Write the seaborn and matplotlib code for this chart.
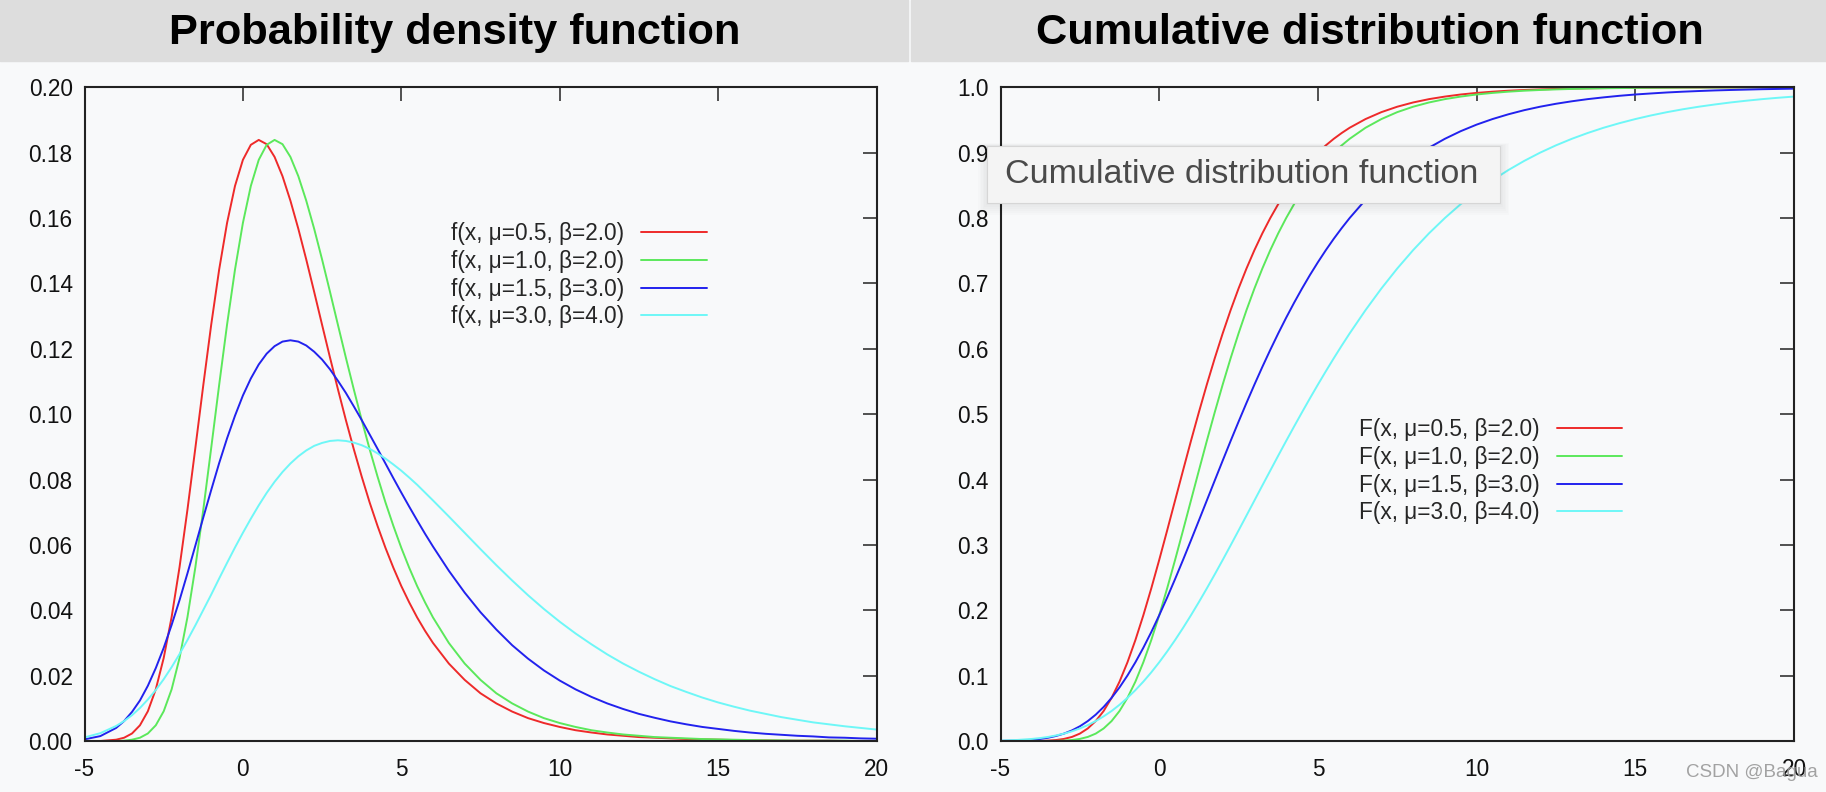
import matplotlib
matplotlib.use("Agg")
import matplotlib.pyplot as plt
from matplotlib.patches import Rectangle
import seaborn as sns

# sample positions and values
x_vals = [-5.0, -4.5, -4.0,
          -3.75, -3.5, -3.25, -3.0, -2.75, -2.5, -2.25, -2.0, -1.75, -1.5,
          -1.25, -1.0, -0.75, -0.5, -0.25, 0.0, 0.25, 0.5, 0.75, 1.0,
          1.25, 1.5, 1.75, 2.0, 2.25, 2.5, 2.75, 3.0, 3.25, 3.5,
          3.75, 4.0, 4.25, 4.5, 4.75, 5.0, 5.25, 5.5, 5.75, 6.0,
          6.5, 7.0, 7.5, 8.0, 8.5, 9.0, 9.5, 10.0, 10.5, 11.0,
          11.5, 12.0, 12.5, 13.0, 13.5, 14.0, 14.5, 15.0, 15.5, 16.0,
          16.5, 17.0, 17.5, 18.0, 18.5, 19.0, 19.5, 20.0]

pdf_mu05_b2 = [0.0000, 0.0000, 0.0004,
               0.0010, 0.0023, 0.0048, 0.0091, 0.0158, 0.0254, 0.0379, 0.0532, 0.0708, 0.0897,
               0.1089, 0.1274, 0.1442, 0.1585, 0.1698, 0.1778, 0.1824, 0.1839, 0.1826, 0.1787,
               0.1728, 0.1653, 0.1567, 0.1473, 0.1374, 0.1273, 0.1173, 0.1076, 0.0982, 0.0893,
               0.0809, 0.0730, 0.0658, 0.0591, 0.0530, 0.0474, 0.0424, 0.0378, 0.0337, 0.0300,
               0.0237, 0.0187, 0.0146, 0.0115, 0.0090, 0.0070, 0.0055, 0.0043, 0.0033, 0.0026,
               0.0020, 0.0016, 0.0012, 0.0010, 0.0008, 0.0006, 0.0005, 0.0004, 0.0003, 0.0002,
               0.0002, 0.0001, 0.0001, 0.0001, 0.0001, 0.0000, 0.0000, 0.0000]
pdf_mu10_b2 = [0.0000, 0.0000, 0.0000,
               0.0001, 0.0004, 0.0010, 0.0023, 0.0048, 0.0091, 0.0158, 0.0254, 0.0379, 0.0532,
               0.0708, 0.0897, 0.1089, 0.1274, 0.1442, 0.1585, 0.1698, 0.1778, 0.1824, 0.1839,
               0.1826, 0.1787, 0.1728, 0.1653, 0.1567, 0.1473, 0.1374, 0.1273, 0.1173, 0.1076,
               0.0982, 0.0893, 0.0809, 0.0730, 0.0658, 0.0591, 0.0530, 0.0474, 0.0424, 0.0378,
               0.0300, 0.0237, 0.0187, 0.0146, 0.0115, 0.0090, 0.0070, 0.0055, 0.0043, 0.0033,
               0.0026, 0.0020, 0.0016, 0.0012, 0.0010, 0.0008, 0.0006, 0.0005, 0.0004, 0.0003,
               0.0002, 0.0002, 0.0001, 0.0001, 0.0001, 0.0001, 0.0000, 0.0000]
pdf_mu15_b3 = [0.0005, 0.0015, 0.0040,
               0.0061, 0.0089, 0.0124, 0.0169, 0.0223, 0.0285, 0.0355, 0.0431, 0.0513, 0.0598,
               0.0684, 0.0768, 0.0850, 0.0926, 0.0995, 0.1057, 0.1109, 0.1152, 0.1185, 0.1208,
               0.1222, 0.1226, 0.1222, 0.1210, 0.1191, 0.1167, 0.1137, 0.1102, 0.1065, 0.1024,
               0.0982, 0.0938, 0.0894, 0.0849, 0.0804, 0.0760, 0.0717, 0.0675, 0.0634, 0.0595,
               0.0521, 0.0454, 0.0394, 0.0341, 0.0293, 0.0252, 0.0216, 0.0185, 0.0158, 0.0135,
               0.0115, 0.0098, 0.0083, 0.0071, 0.0060, 0.0051, 0.0043, 0.0037, 0.0031, 0.0026,
               0.0022, 0.0019, 0.0016, 0.0014, 0.0011, 0.0010, 0.0008, 0.0007]
pdf_mu30_b4 = [0.0011, 0.0024, 0.0046,
               0.0061, 0.0079, 0.0101, 0.0127, 0.0156, 0.0189, 0.0226, 0.0266, 0.0309, 0.0354,
               0.0401, 0.0448, 0.0497, 0.0545, 0.0592, 0.0637, 0.0680, 0.0721, 0.0759, 0.0793,
               0.0823, 0.0849, 0.0871, 0.0889, 0.0903, 0.0912, 0.0918, 0.0920, 0.0918, 0.0913,
               0.0905, 0.0894, 0.0880, 0.0864, 0.0846, 0.0827, 0.0806, 0.0784, 0.0760, 0.0736,
               0.0687, 0.0637, 0.0587, 0.0538, 0.0491, 0.0446, 0.0404, 0.0365, 0.0329, 0.0296,
               0.0265, 0.0237, 0.0212, 0.0189, 0.0168, 0.0150, 0.0133, 0.0118, 0.0105, 0.0093,
               0.0083, 0.0073, 0.0065, 0.0057, 0.0051, 0.0045, 0.0040, 0.0035]

cdf_mu05_b2 = [0.0000, 0.0000, 0.0001,
               0.0002, 0.0006, 0.0015, 0.0032, 0.0062, 0.0113, 0.0192, 0.0305, 0.0459, 0.0660,
               0.0908, 0.1204, 0.1544, 0.1923, 0.2334, 0.2769, 0.3220, 0.3679, 0.4137, 0.4590,
               0.5029, 0.5452, 0.5855, 0.6235, 0.6591, 0.6922, 0.7228, 0.7509, 0.7766, 0.8000,
               0.8213, 0.8405, 0.8578, 0.8734, 0.8874, 0.9000, 0.9112, 0.9212, 0.9301, 0.9381,
               0.9514, 0.9620, 0.9703, 0.9768, 0.9819, 0.9858, 0.9890, 0.9914, 0.9933, 0.9948,
               0.9959, 0.9968, 0.9975, 0.9981, 0.9985, 0.9988, 0.9991, 0.9993, 0.9994, 0.9996,
               0.9997, 0.9997, 0.9998, 0.9998, 0.9999, 0.9999, 0.9999, 0.9999]
cdf_mu10_b2 = [0.0000, 0.0000, 0.0000,
               0.0000, 0.0001, 0.0002, 0.0006, 0.0015, 0.0032, 0.0062, 0.0113, 0.0192, 0.0305,
               0.0459, 0.0660, 0.0908, 0.1204, 0.1544, 0.1923, 0.2334, 0.2769, 0.3220, 0.3679,
               0.4137, 0.4590, 0.5029, 0.5452, 0.5855, 0.6235, 0.6591, 0.6922, 0.7228, 0.7509,
               0.7766, 0.8000, 0.8213, 0.8405, 0.8578, 0.8734, 0.8874, 0.9000, 0.9112, 0.9212,
               0.9381, 0.9514, 0.9620, 0.9703, 0.9768, 0.9819, 0.9858, 0.9890, 0.9914, 0.9933,
               0.9948, 0.9959, 0.9968, 0.9975, 0.9981, 0.9985, 0.9988, 0.9991, 0.9993, 0.9994,
               0.9996, 0.9997, 0.9997, 0.9998, 0.9998, 0.9999, 0.9999, 0.9999]
cdf_mu15_b3 = [0.0002, 0.0006, 0.0019,
               0.0032, 0.0050, 0.0077, 0.0113, 0.0162, 0.0225, 0.0305, 0.0403, 0.0521, 0.0660,
               0.0820, 0.1002, 0.1204, 0.1426, 0.1666, 0.1923, 0.2194, 0.2477, 0.2769, 0.3069,
               0.3373, 0.3679, 0.3985, 0.4289, 0.4590, 0.4884, 0.5172, 0.5452, 0.5723, 0.5984,
               0.6235, 0.6475, 0.6704, 0.6922, 0.7129, 0.7324, 0.7509, 0.7683, 0.7846, 0.8000,
               0.8279, 0.8522, 0.8734, 0.8918, 0.9076, 0.9212, 0.9329, 0.9429, 0.9514, 0.9587,
               0.9650, 0.9703, 0.9748, 0.9786, 0.9819, 0.9846, 0.9870, 0.9890, 0.9906, 0.9921,
               0.9933, 0.9943, 0.9952, 0.9959, 0.9965, 0.9971, 0.9975, 0.9979]
cdf_mu30_b4 = [0.0006, 0.0015, 0.0032,
               0.0045, 0.0062, 0.0085, 0.0113, 0.0148, 0.0192, 0.0243, 0.0305, 0.0377, 0.0459,
               0.0554, 0.0660, 0.0778, 0.0908, 0.1050, 0.1204, 0.1369, 0.1544, 0.1729, 0.1923,
               0.2125, 0.2334, 0.2549, 0.2769, 0.2993, 0.3220, 0.3449, 0.3679, 0.3909, 0.4137,
               0.4365, 0.4590, 0.4811, 0.5029, 0.5243, 0.5452, 0.5656, 0.5855, 0.6048, 0.6235,
               0.6591, 0.6922, 0.7228, 0.7509, 0.7766, 0.8000, 0.8213, 0.8405, 0.8578, 0.8734,
               0.8874, 0.9000, 0.9112, 0.9212, 0.9301, 0.9381, 0.9451, 0.9514, 0.9570, 0.9620,
               0.9664, 0.9703, 0.9737, 0.9768, 0.9795, 0.9819, 0.9840, 0.9858]

params = ["μ=0.5, β=2.0", "μ=1.0, β=2.0", "μ=1.5, β=3.0", "μ=3.0, β=4.0"]
colors = ["#ee2a2a", "#5be85b", "#2222ee", "#6ef7f7"]
pdf_series = [pdf_mu05_b2, pdf_mu10_b2, pdf_mu15_b3, pdf_mu30_b4]
cdf_series = [cdf_mu05_b2, cdf_mu10_b2, cdf_mu15_b3, cdf_mu30_b4]

W, H = 1826, 792
BG = "#f8f9fa"

sns.set_theme(style="white")
plt.rcParams["font.family"] = ["Liberation Sans", "DejaVu Sans"]
plt.rcParams["axes.unicode_minus"] = False

fig = plt.figure(figsize=(W / 100, H / 100), dpi=100, facecolor=BG)


def px_box(x0, y0, x1, y1):
    # pixel box (top-left origin) -> figure fraction rect
    return [x0 / W, 1 - y1 / H, (x1 - x0) / W, (y1 - y0) / H]


ax_pdf = fig.add_axes(px_box(84.5, 87.3, 876.5, 741))
ax_cdf = fig.add_axes(px_box(1000.5, 87.3, 1794, 741))

for ax, series, prefix, ymax, step, fmt in [
        (ax_pdf, pdf_series, "f", 0.20, 0.02, "{:.2f}"),
        (ax_cdf, cdf_series, "F", 1.0, 0.1, "{:.1f}")]:
    ax.set_facecolor(BG)
    for vals, p, c in zip(series, params, colors):
        sns.lineplot(x=x_vals, y=vals, ax=ax, color=c, linewidth=1.4,
                     label=f"{prefix}(x, {p})", estimator=None)
    ax.set_xlim(-5, 20)
    ax.set_ylim(0, ymax)
    ax.set_xticks([-5, 0, 5, 10, 15, 20])
    yt = [round(i * step, 2) for i in range(11)]
    ax.set_yticks(yt)
    ax.set_yticklabels([fmt.format(v) for v in yt])
    ax.tick_params(direction="in", length=10, width=1.1, color="#222222",
                   top=True, right=True, labelsize=16.3, labelcolor="#111111")
    ax.tick_params(axis="y", pad=8.5)
    ax.tick_params(axis="x", pad=12.5)
    for s in ax.spines.values():
        s.set_linewidth(1.5)
        s.set_color("#222222")
    ax.set_xlabel("")
    ax.set_ylabel("")

leg_pos = {ax_pdf: (451, 222), ax_cdf: (1359, 418)}
for ax, (lx, ly) in leg_pos.items():
    ax.legend(loc="upper left", bbox_to_anchor=(lx / W, 1 - ly / H),
              bbox_transform=fig.transFigure, frameon=False, markerfirst=False,
              handlelength=2.9, handletextpad=0.75, labelspacing=0.21,
              borderpad=0, borderaxespad=0, fontsize=16.3)

# title bars
fig.patches.append(Rectangle(px_box(0, 0, 908, 61)[:2], 908 / W, 61 / H,
                             transform=fig.transFigure, color="#dddddd", zorder=1))
fig.patches.append(Rectangle(px_box(911, 0, W, 61)[:2], (W - 911) / W, 61 / H,
                             transform=fig.transFigure, color="#dddddd", zorder=1))
fig.text(454.5 / W, 1 - 33 / H, "Probability density function", ha="center", va="center",
         fontsize=31.2, fontweight="bold", color="black")
fig.text(1370 / W, 1 - 33 / H, "Cumulative distribution function", ha="center", va="center",
         fontsize=31.2, fontweight="bold", color="black")

# hover tooltip captured in the screenshot
for i in range(1, 7):
    x0, y0, w, h = px_box(987 - i * 1.5, 146 - i * 0.5, 1500 + i * 1.5, 203 + i * 2)
    fig.patches.append(Rectangle((x0, y0), w, h, transform=fig.transFigure,
                                 color="black", alpha=0.012, lw=0, zorder=20))
x0, y0, w, h = px_box(987, 146, 1500, 203)
fig.patches.append(Rectangle((x0, y0), w, h, transform=fig.transFigure,
                             facecolor="#f4f4f4", edgecolor="#d6d6d6", lw=0.8, zorder=21))
fig.text(1004.5 / W, 1 - 174.5 / H, "Cumulative distribution function", ha="left", va="center",
         fontsize=24.5, color="#4a4a4a", zorder=22)

# watermark
fig.text(1686 / W, 1 - 772.5 / H, "CSDN @Bagua", ha="left", va="center",
         fontsize=13.5, color="#999999", alpha=0.9, zorder=30)

fig.savefig("out.png", dpi=100, facecolor=BG)
